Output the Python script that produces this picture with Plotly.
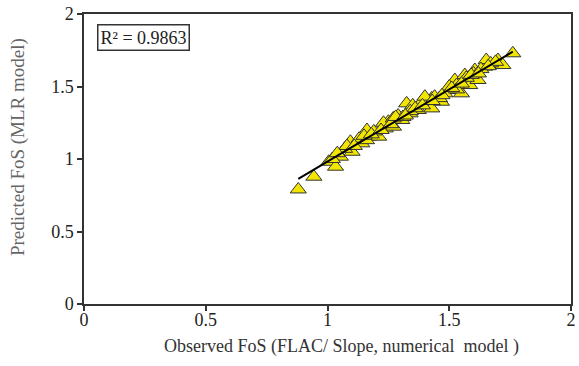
import numpy as np
import plotly.graph_objects as go

# Observed vs predicted factor of safety
observed = [0.88, 0.944, 1.005, 1.033, 1.053, 1.101, 1.094, 1.141, 1.169, 1.162,
            1.21, 1.237, 1.25, 1.271, 1.305, 1.325, 1.339, 1.373, 1.387, 1.428,
            1.428, 1.468, 1.482, 1.523, 1.537, 1.55, 1.564, 1.584, 1.605, 1.618,
            1.646, 1.652, 1.70, 1.72, 1.761,
            1.07, 1.13, 1.19, 1.23, 1.29, 1.31, 1.35, 1.41, 1.44, 1.46,
            1.50, 1.53, 1.57, 1.60, 1.63, 1.67, 1.69, 1.02, 1.08, 1.16,
            1.27, 1.34, 1.40, 1.53,
            1.04, 1.11, 1.15, 1.18, 1.22, 1.26, 1.28, 1.32, 1.36, 1.39,
            1.43, 1.47, 1.51, 1.55, 1.59, 1.62, 1.66]
predicted = [0.79, 0.878, 0.981, 0.947, 1.016, 1.05, 1.119, 1.108, 1.154, 1.20,
             1.154, 1.211, 1.257, 1.223, 1.269, 1.384, 1.315, 1.338, 1.395, 1.418,
             1.349, 1.395, 1.453, 1.545, 1.476, 1.453, 1.579, 1.51, 1.614, 1.545,
             1.637, 1.683, 1.683, 1.648, 1.729,
             1.07, 1.14, 1.19, 1.25, 1.30, 1.29, 1.37, 1.40, 1.43, 1.42,
             1.50, 1.51, 1.56, 1.59, 1.62, 1.66, 1.67, 1.00, 1.09, 1.13,
             1.28, 1.33, 1.43, 1.48,
             1.04, 1.09, 1.16, 1.17, 1.20, 1.24, 1.29, 1.30, 1.35, 1.37,
             1.40, 1.44, 1.49, 1.52, 1.58, 1.59, 1.64]

x_ticks = [0, 0.5, 1, 1.5, 2]
y_ticks = [0, 0.5, 1, 1.5, 2]
r2_text = "R\u00b2 = 0.9863"
x_title = "Observed FoS (FLAC/ Slope, numerical  model )"
y_title = "Predicted FoS (MLR model)"

# Least-squares trend line over the observed range
obs = np.array(observed)
pred = np.array(predicted)
slope, intercept = np.polyfit(obs, pred, 1)
line_x = np.array([obs.min(), obs.max()])
line_y = slope * line_x + intercept

font_family = "Liberation Serif, Times New Roman, serif"

fig = go.Figure()
fig.add_trace(go.Scatter(
    x=observed, y=predicted, mode="markers",
    marker=dict(symbol="triangle-up", size=14, color="#F2E600",
                line=dict(color="#333333", width=1)),
    showlegend=False,
))
fig.add_trace(go.Scatter(
    x=line_x, y=line_y, mode="lines",
    line=dict(color="black", width=2),
    showlegend=False,
))

axis_common = dict(
    showgrid=False, zeroline=False, showline=True, mirror=True,
    linecolor="#333333", linewidth=1.5,
    ticks="outside", ticklen=5, tickcolor="#333333", tickwidth=1.5,
    tickfont=dict(family=font_family, size=18, color="#222222"),
)

fig.update_layout(
    width=579, height=366,
    margin=dict(l=84, r=3, t=14, b=62),
    paper_bgcolor="white", plot_bgcolor="white",
    xaxis=dict(range=[0, 2], tickvals=x_ticks, ticktext=[str(v) for v in x_ticks],
               ticklabelstandoff=-6, **axis_common),
    yaxis=dict(range=[0, 2], tickvals=y_ticks, ticktext=[str(v) for v in y_ticks],
               **axis_common),
    annotations=[
        dict(x=0.027, y=0.966, xref="paper", yref="paper",
             xanchor="left", yanchor="top", text=r2_text, showarrow=False,
             font=dict(family=font_family, size=18, color="#222222"),
             bordercolor="#333333", borderwidth=1.5, borderpad=2, bgcolor="white"),
        # axis titles
        dict(x=0.528, y=0, xref="paper", yref="paper", yshift=-42,
             xanchor="center", yanchor="middle", text=x_title, showarrow=False,
             font=dict(family=font_family, size=18, color="#333333")),
        dict(x=0, y=0.541, xref="paper", yref="paper", xshift=-66,
             xanchor="center", yanchor="middle", textangle=-90,
             text=y_title, showarrow=False,
             font=dict(family=font_family, size=19, color="#666666")),
    ],
)

fig.write_html("out.html")
